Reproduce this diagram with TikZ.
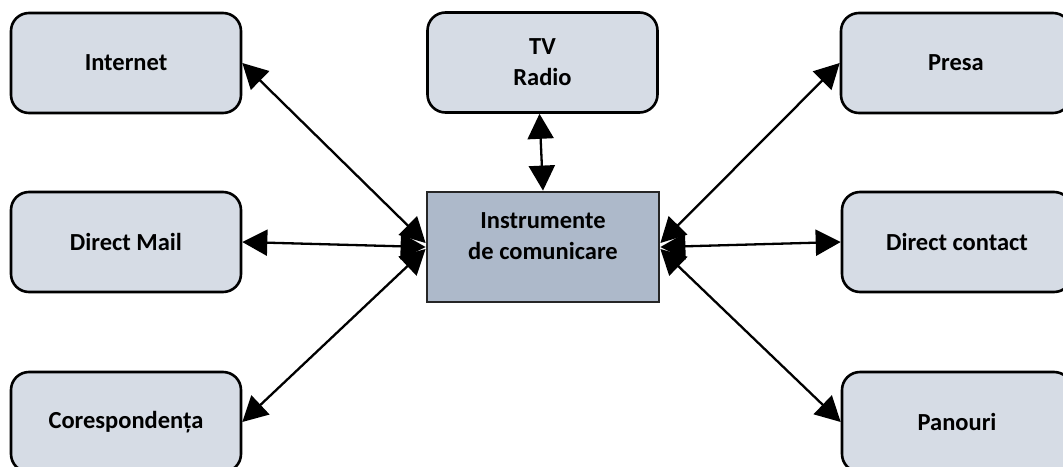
\documentclass[tikz,border=0pt]{standalone}
\usepackage{fontspec}
\setmainfont{Carlito}
\usetikzlibrary{arrows.meta}
\definecolor{boxfill}{HTML}{D6DCE5}
\definecolor{centerfill}{HTML}{ADB9CA}
\tikzset{
  txt/.style={font=\fontsize{24.5}{31}\selectfont\bfseries, align=center},
  sidebox/.style={draw=black, line width=2.6pt, fill=boxfill, rounded corners=18pt,
    minimum width=230pt, minimum height=100pt, inner sep=0pt, txt},
  centerbox/.style={draw=black!85, line width=2.8pt, fill=centerfill,
    minimum width=232pt, minimum height=110pt, inner sep=0pt},
  dbl/.style={line width=2.3pt, {Triangle[length=25pt,width=26pt]}-{Triangle[length=25pt,width=26pt]}}
}
\begin{document}
\begin{tikzpicture}[x=1pt,y=-1pt]
\useasboundingbox (0,0) rectangle (1063,466);
\clip (0,0) rectangle (1063,466);
\fill[white] (0,0) rectangle (1063,466);
\node[sidebox] (inet) at (126,63) {Internet};
\node[sidebox] (tv) at (542.5,62.5) {TV\\Radio};
\node[sidebox] (presa) at (956,63) {Presa};
\node[sidebox] (dmail) at (126,242) {Direct Mail};
\node[sidebox] (dcont) at (957,242) {Direct contact};
\node[sidebox] (cor) at (126,422) {Corespondența};
\node[sidebox] (pan) at (957,422) {Panouri};
\node[centerbox, label={[txt, yshift=11pt]center:{Instrumente\\de comunicare}}] (c) at (543,247) {};
\draw[dbl] ([xshift=-3pt]tv.south) -- (c.north);
\draw[dbl] (inet.east) -- ([yshift=4pt]c.west);
\draw[dbl] (dmail.east) -- (c.west);
\draw[dbl] (cor.east) -- ([yshift=-2pt]c.west);
\draw[dbl] (presa.west) -- ([yshift=4pt]c.east);
\draw[dbl] (dcont.west) -- (c.east);
\draw[dbl] (pan.west) -- ([yshift=-2pt]c.east);
\end{tikzpicture}
\end{document}
